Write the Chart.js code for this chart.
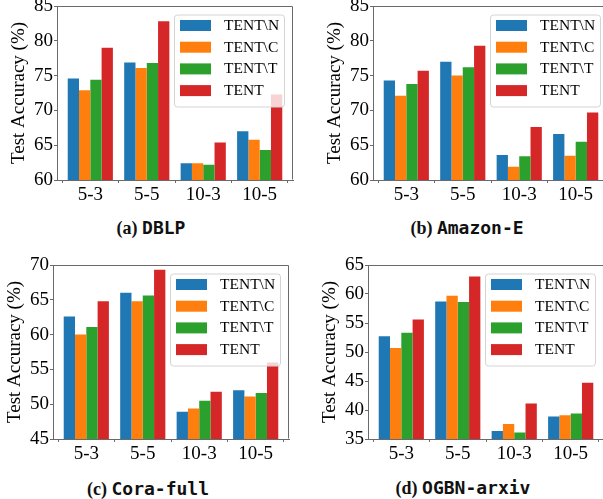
<!DOCTYPE html>
<html>
<head>
<meta charset="utf-8">
<script src="https://cdn.jsdelivr.net/npm/chart.js@4.4.1/dist/chart.umd.min.js"></script>
<style>
  html, body { margin: 0; padding: 0; background: #fff; }
  body { width: 603px; height: 499px; position: relative; overflow: hidden; }
  canvas { position: absolute; }
  .cap {
    position: absolute;
    transform: translate(-50%, -50%);
    white-space: nowrap;
    font-size: 18px;
    font-weight: bold;
    color: #111;
  }
  .cap .lbl { font-family: "Liberation Serif", serif; }
  .cap .ds { font-family: "DejaVu Sans Mono", monospace; }
</style>
</head>
<body>
<canvas id="dblp" width="300" height="225" style="left:0px;top:-10px"></canvas>
<canvas id="amazon" width="300" height="225" style="left:316px;top:-10px"></canvas>
<canvas id="cora" width="300" height="225" style="left:-4px;top:249px"></canvas>
<canvas id="ogbn" width="300" height="225" style="left:311px;top:249px"></canvas>

<div class="cap" style="left:151px;top:228px"><span class="lbl">(a)</span> <span class="ds">DBLP</span></div>
<div class="cap" style="left:467px;top:228px"><span class="lbl">(b)</span> <span class="ds">Amazon-E</span></div>
<div class="cap" style="left:148px;top:489px"><span class="lbl">(c)</span> <span class="ds">Cora-full</span></div>
<div class="cap" style="left:463px;top:488px"><span class="lbl">(d)</span> <span class="ds">OGBN-arxiv</span></div>

<script>
// shot settings
const categories = ['5-3', '5-5', '10-3', '10-5']
const seriesNames = ['TENT\\N', 'TENT\\C', 'TENT\\T', 'TENT']
const seriesColors = ['#1f77b4', '#ff7f0e', '#2ca02c', '#d62728']

// rows follow seriesNames, columns follow categories
const dblpValues = [
  [74.6, 76.9, 62.4, 67.0],
  [72.9, 76.1, 62.4, 65.8],
  [74.4, 76.8, 62.2, 64.3],
  [79.0, 82.8, 65.4, 72.3]
]
const amazonValues = [
  [74.3, 77.0, 63.6, 66.6],
  [72.1, 75.0, 61.9, 63.5],
  [73.8, 76.2, 63.4, 65.5],
  [75.7, 79.3, 67.6, 69.7]
]
const coraValues = [
  [62.6, 66.0, 48.9, 52.0],
  [60.0, 64.8, 49.4, 51.1],
  [61.1, 65.6, 50.5, 51.6],
  [64.8, 69.3, 51.8, 56.0]
]
const ogbnValues = [
  [52.7, 58.7, 36.4, 38.9],
  [50.7, 59.7, 37.6, 39.1],
  [53.3, 58.6, 36.1, 39.4],
  [55.6, 63.0, 41.1, 44.7]
]

const dblpRange = [60, 85]
const amazonRange = [60, 85]
const coraRange = [45, 70]
const ogbnRange = [35, 65]
const yStep = 5
const yTitle = 'Test Accuracy (%)'

const serif = 'Liberation Serif'
const spineColor = '#6a6a6a'

// frame on top/right and a matplotlib-like legend box inside the plot
const framePlugin = {
  id: 'frameAndLegend',
  afterDatasetsDraw(chart) {
    const { ctx, chartArea } = chart
    const bw = 110, bh = 92
    const bx = chartArea.right - 9 - bw
    const by = chartArea.top + 8.5
    ctx.save()
    ctx.beginPath()
    ctx.roundRect(bx + 0.5, by + 0.5, bw, bh, 3)
    ctx.fillStyle = 'rgba(255,255,255,0.8)'
    ctx.fill()
    ctx.strokeStyle = '#d4d4d4'
    ctx.lineWidth = 1
    ctx.stroke()
    ctx.font = '15.5px "' + serif + '"'
    ctx.textBaseline = 'middle'
    chart.data.datasets.forEach((ds, i) => {
      const cy = by + 11 + i * 21.7
      ctx.fillStyle = ds.backgroundColor
      ctx.fillRect(bx + 6, cy - 5.5, 31, 11)
      ctx.fillStyle = '#000'
      ctx.fillText(ds.label, bx + 50, cy + 0.5)
    })
    ctx.restore()
  },
  afterDraw(chart) {
    const { ctx, chartArea } = chart
    ctx.save()
    ctx.strokeStyle = spineColor
    ctx.lineWidth = 1
    ctx.beginPath()
    ctx.moveTo(Math.round(chartArea.left) + 0.5, Math.round(chartArea.top) + 0.5)
    ctx.lineTo(Math.round(chartArea.right) - 0.5, Math.round(chartArea.top) + 0.5)
    ctx.lineTo(Math.round(chartArea.right) - 0.5, Math.round(chartArea.bottom) - 0.5)
    ctx.stroke()
    ctx.restore()
  }
}

function makeChart(id, values, range) {
  const datasets = values.map((row, i) => ({
    label: seriesNames[i],
    data: row.map((v, j) => ({ x: j, y: v })),
    backgroundColor: seriesColors[i],
    borderWidth: 0,
    categoryPercentage: 0.8,
    barPercentage: 1.0
  }))

  return new Chart(document.getElementById(id), {
    type: 'bar',
    data: { datasets },
    plugins: [framePlugin],
    options: {
      responsive: false,
      animation: false,
      devicePixelRatio: 1,
      layout: { padding: { top: 16, right: 7, bottom: 0, left: 0 } },
      plugins: {
        legend: { display: false },
        tooltip: { enabled: false }
      },
      scales: {
        x: {
          type: 'linear',
          min: -0.59,
          max: 3.59,
          offset: false,
          afterBuildTicks: (scale) => {
            scale.ticks = categories.map((c, i) => ({ value: i }))
          },
          afterFit: (scale) => { scale.height = 35 },
          ticks: {
            autoSkip: false,
            maxRotation: 0,
            padding: 1,
            color: '#000',
            font: { family: serif, size: 19 },
            callback: (v) => categories[v]
          },
          grid: {
            drawOnChartArea: false,
            drawTicks: true,
            tickLength: 3,
            color: spineColor
          },
          border: { display: true, color: spineColor }
        },
        y: {
          min: range[0],
          max: range[1],
          afterFit: (scale) => {
            scale.width = 57
            scale.paddingTop = 0
            scale.paddingBottom = 0
          },
          ticks: {
            stepSize: yStep,
            padding: 1,
            color: '#000',
            font: { family: serif, size: 19 }
          },
          grid: {
            drawOnChartArea: false,
            drawTicks: true,
            tickLength: 3,
            color: spineColor
          },
          border: { display: true, color: spineColor },
          title: {
            display: true,
            text: yTitle,
            color: '#000',
            font: { family: serif, size: 19 },
            padding: { top: 7.5, bottom: 0 }
          }
        }
      }
    }
  })
}

makeChart('dblp', dblpValues, dblpRange)
makeChart('amazon', amazonValues, amazonRange)
makeChart('cora', coraValues, coraRange)
makeChart('ogbn', ogbnValues, ogbnRange)
</script>
</body>
</html>
